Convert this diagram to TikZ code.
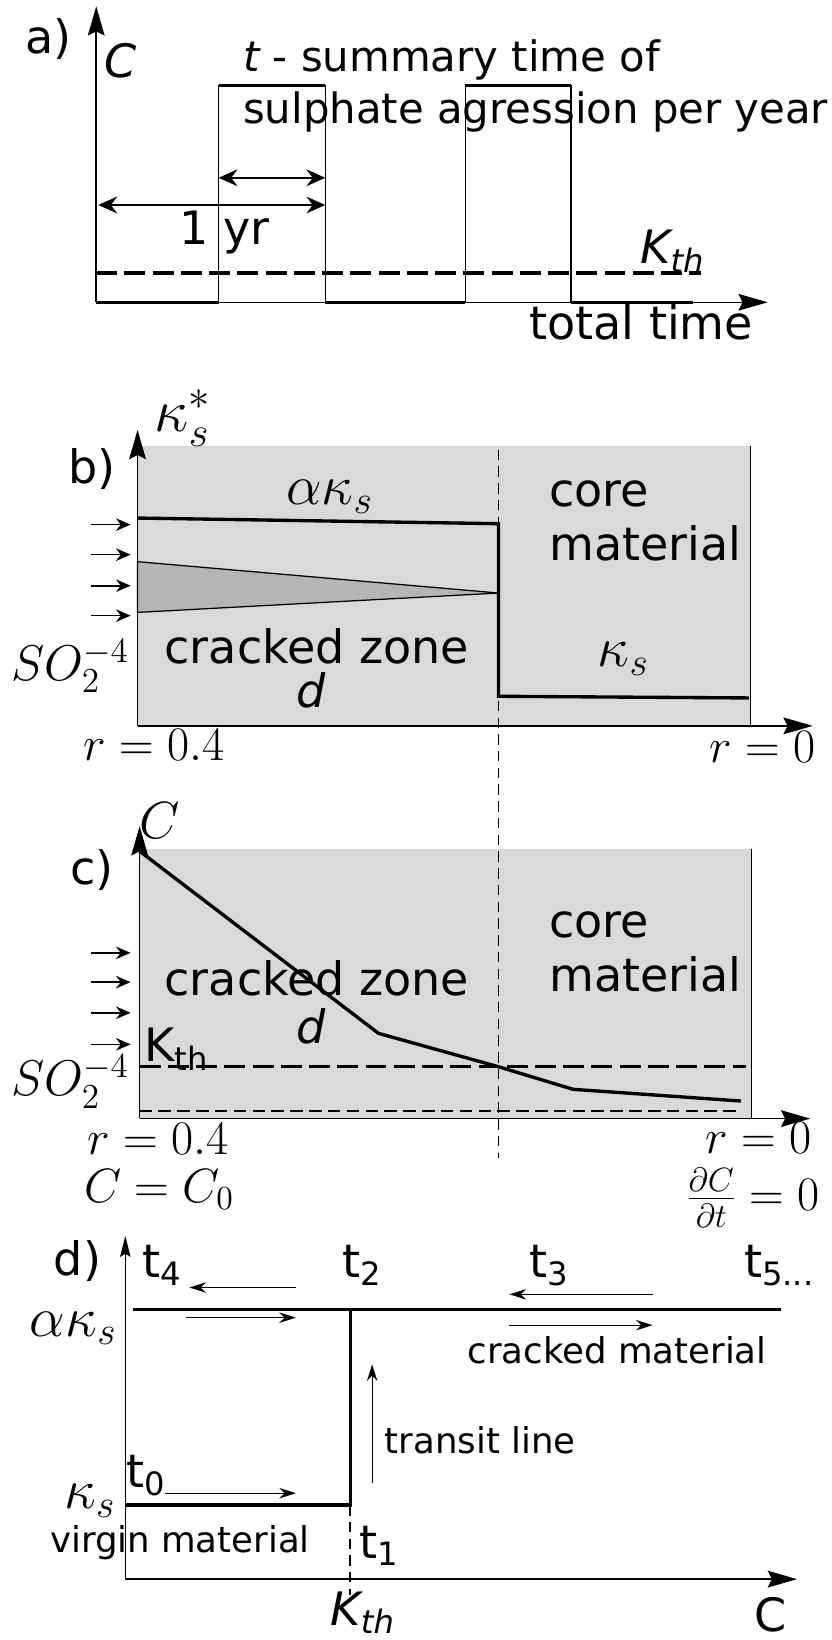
\RequirePackage{fix-cm}
\documentclass[tikz,border=0pt]{standalone}
\usepackage{fontspec}
\setmainfont{DejaVu Sans}
\usetikzlibrary{arrows.meta,backgrounds}
\definecolor{zonegray}{HTML}{D9D9D9}
\definecolor{crackgray}{HTML}{B5B5B5}

\begin{document}
\begin{tikzpicture}[
  x=0.5pt, y=-0.5pt,
  font=\fontsize{22}{26}\selectfont,
  lbl/.style={inner sep=0pt},
  small/.style={inner sep=0pt, font=\fontsize{17}{20}\selectfont},
  kap/.style={inner sep=0pt, font=\fontsize{27}{30}\selectfont},
  eqn/.style={inner sep=0pt, font=\fontsize{23}{26}\selectfont},
  axis/.style={-{Stealth[length=14pt,width=8pt,inset=2pt]}, line width=0.7pt},
  thinaxis/.style={-{Stealth[length=10pt,width=5pt,inset=1.5pt]}, line width=0.6pt},
  thickln/.style={line width=1.6pt},
  sideln/.style={line width=0.6pt},
  fluxarrow/.style={-{Stealth[length=7pt,width=6pt]}, line width=0.8pt},
  spanarrow/.style={{Stealth[length=9pt,width=8pt,inset=3pt]}-{Stealth[length=9pt,width=8pt,inset=3pt]}, line width=0.8pt},
  movearrow/.style={-{Stealth[length=8pt,width=5pt]}, line width=0.6pt},
  kthline/.style={line width=1.6pt, dash pattern=on 10pt off 3.5pt},
  frontline/.style={line width=0.9pt, dash pattern=on 5pt off 3pt},
  floorline/.style={line width=1.3pt, dash pattern=on 6pt off 3pt},
]
\useasboundingbox (0,0) rectangle (795,1568);

% ---- a) yearly pulses of sulphate ----
\node[lbl] (tagA) at (46,37) {a)};
\draw[axis] (92,289) -- (92,6);
\draw[axis] (92,289) -- (734,289);
\node[lbl] (conc) at (115,58) {\itshape C};
\draw[sideln] (209,289) rectangle (311,82);
\draw[sideln] (445,289) rectangle (546,82);
\draw[thickln] (92,289) -- (209,289) (209,82) -- (311,82) (311,289) -- (445,289)
                (445,82) -- (546,82) (546,289) -- (663,289);
\draw[kthline] (92,261) -- (670,261);
\draw[spanarrow] (209,170) -- (311,170);
\draw[spanarrow] (94,196) -- (311,196);
\node[lbl, anchor=west, align=left, font=\fontsize{20}{25}\selectfont] (note) at (232,82)
      {{\itshape t} - summary time of\\sulphate agression per year};
\node[lbl] (year) at (215,222) {1 yr};
\node[lbl] (kthA) at (643,240) {\itshape K\textsubscript{th}};
\node[lbl] (total) at (613,308) {total time};

% ---- b) permeability across the sample ----
\begin{scope}[on background layer]
  \fill[zonegray] (131.5,426) rectangle (717.7,694);
  \fill[zonegray] (133.5,811.6) rectangle (718.7,1068.6);
\end{scope}
\draw[sideln] (717.7,426) -- (717.7,694);
\filldraw[fill=crackgray, sideln] (131.5,537) -- (476.6,567) -- (131.5,585.5) -- cycle;
\draw[thickln] (131.5,495.3) -- (476.6,500.7) -- (476.6,665.7) -- (716,667.3);
\draw[axis] (131.5,694) -- (131.5,411);
\draw[axis] (131.5,694) -- (777,694);
\foreach \y in {501.6,530.3,560,588.6}
  \draw[fluxarrow] (86.6,\y) -- (124.9,\y);
\node[lbl] (tagB) at (88,448) {b)};
\node[kap, font=\fontsize{29}{32}\selectfont] (kapB) at (175,400) {$\kappa_s^*$};
\node[kap] (akB) at (315,475) {$\alpha\kappa_s$};
\node[lbl, align=left] (coreB) at (617,498) {core\\material};
\node[lbl] (zoneB) at (303,618) {cracked zone};
\node[lbl] (dB) at (297,660) {\itshape d};
\node[kap] (ksB) at (596,630) {$\kappa_s$};
\node[eqn, font=\fontsize{24}{28}\selectfont] (soB) at (67,637) {$SO_2^{-4}$};
\node[eqn] (rinB) at (147,712) {$r=0.4$};
\node[eqn] (routB) at (729,714) {$r=0$};

% ---- damage front (shared by b and c) ----
\draw[frontline] (476.6,430) -- (476.6,1107);

% ---- c) concentration profile ----
\draw[sideln] (718.7,811.6) -- (718.7,1068.6);
\draw[kthline] (133.5,1019.9) -- (713.6,1019.9);
\draw[floorline] (133.5,1062.2) -- (708.5,1062.2);
\draw[thickln] (133.5,813.8) -- (361.9,988) -- (476.6,1019.9) -- (548,1041.5) -- (708.5,1052.7);
\draw[axis] (133.5,1068.6) -- (133.5,789.9);
\draw[axis] (133.5,1069.5) -- (774.7,1069.5);
\foreach \y in {911,939,968.3,998.5}
  \draw[fluxarrow] (86.6,\y) -- (124.9,\y);
\node[lbl] (tagC) at (88,832) {c)};
\node[eqn, font=\fontsize{25}{28}\selectfont] (cC) at (153,785) {$C$};
\node[lbl, align=left] (coreC) at (617,910) {core\\material};
\node[lbl] (zoneC) at (303,935) {cracked zone};
\node[lbl] (dC) at (297,981) {\itshape d};
\node[lbl] (kthC) at (169,1003) {K\textsubscript{th}};
\node[eqn, font=\fontsize{24}{28}\selectfont] (soC) at (67,1034) {$SO_2^{-4}$};
\node[eqn] (rinC) at (151,1089) {$r=0.4$};
\node[eqn] (c0) at (152,1137) {$C=C_0$};
\node[eqn] (routC) at (725,1088) {$r=0$};
\node[eqn] (dcdt) at (720,1145) {$\frac{\partial C}{\partial t}=0$};

% ---- d) permeability vs concentration ----
\draw[thinaxis] (119.8,1509.8) -- (119.8,1181.7);
\draw[axis] (119.8,1509.8) -- (762,1509.8);
\draw[thickln] (127.4,1251.8) -- (746.7,1251.8);
\draw[thickln] (120.8,1439) -- (334.9,1439) -- (334.9,1251.8);
\draw[frontline] (334.9,1439) -- (334.9,1525);
\draw[movearrow] (283,1231) -- (181,1231);
\draw[movearrow] (624,1237.5) -- (487,1237.5);
\draw[movearrow] (178,1259.8) -- (283,1259.8);
\draw[movearrow] (487,1267) -- (624,1267);
\draw[movearrow] (158,1427.6) -- (283,1427.6);
\draw[movearrow] (355.8,1417.4) -- (355.8,1304.4);
\node[lbl] (tagD) at (74,1206) {d)};
\node[lbl] (t4) at (155,1210) {t\textsubscript{4}};
\node[lbl] (t2) at (346,1210) {t\textsubscript{2}};
\node[lbl] (t3) at (525,1210) {t\textsubscript{3}};
\node[lbl] (t5) at (745,1210) {t\textsubscript{5...}};
\node[kap] (akD) at (70,1270) {$\alpha\kappa_s$};
\node[small] (crk) at (590,1291) {cracked material};
\node[small] (transit) at (459,1377) {transit line};
\node[lbl] (t0) at (140,1411) {t\textsubscript{0}};
\node[kap] (ksD) at (86,1435) {$\kappa_s$};
\node[small] (virgin) at (172,1475) {virgin material};
\node[lbl] (t1) at (363,1478) {t\textsubscript{1}};
\node[lbl] (kthD) at (347,1542) {\itshape K\textsubscript{th}};
\node[lbl] (cD) at (737,1544) {C};
\end{tikzpicture}
\end{document}
